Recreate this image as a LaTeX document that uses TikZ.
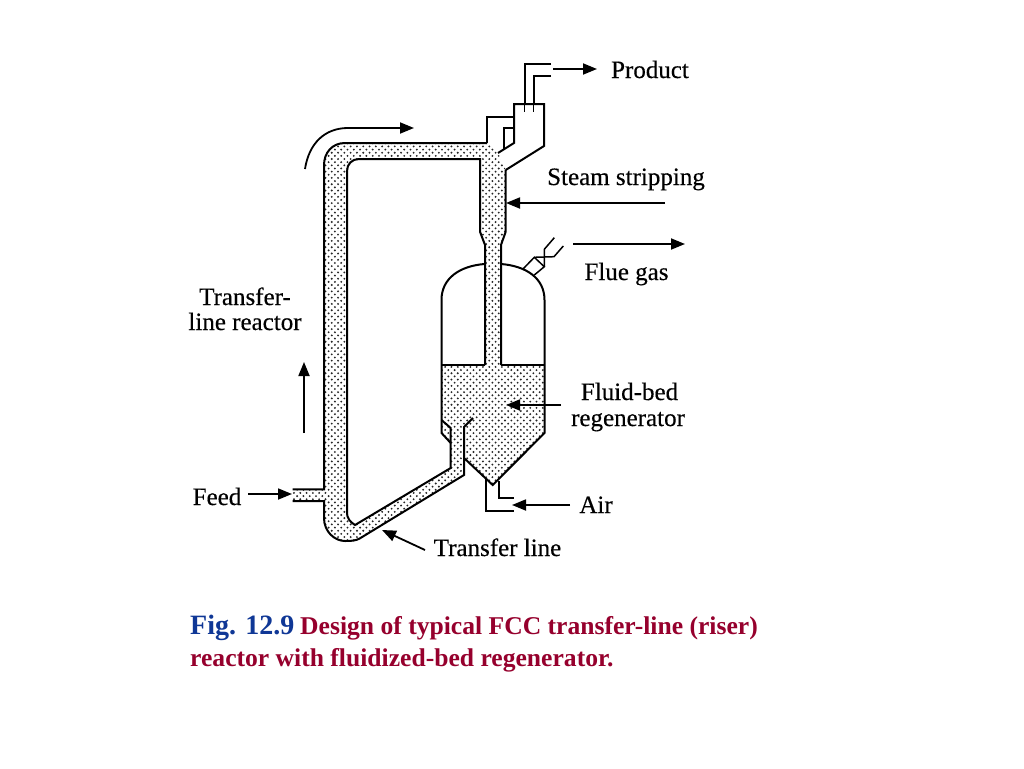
\documentclass[tikz,border=0pt]{standalone}
\usepackage{fontspec}
\setmainfont{Liberation Serif}
\newfontfamily\labfont[FakeBold=0.35]{Liberation Serif}
\usetikzlibrary{patterns,arrows.meta}
\pgfdeclarepatternformonly{stipdots}{\pgfqpoint{-1pt}{-1pt}}{\pgfqpoint{7.3pt}{7.3pt}}{\pgfqpoint{6.3pt}{6.3pt}}{%
  \pgfpathcircle{\pgfqpoint{1pt}{1pt}}{1.05pt}%
  \pgfpathcircle{\pgfqpoint{4.15pt}{4.15pt}}{1.05pt}%
  \pgfusepath{fill}}
\definecolor{capblue}{RGB}{15,55,150}
\definecolor{capred}{RGB}{150,0,45}
\tikzset{
  wall/.style={line width=2pt,line join=miter},
  thinwall/.style={line width=1.5pt},
  flow/.style={line width=1.8pt,-{Triangle[length=14pt,width=11pt]}},
  lab/.style={inner sep=0pt,anchor=base,font=\labfont\fontsize{25}{28}\selectfont,text=black},
  capblue text/.style={inner sep=0pt,anchor=base west,font=\fontsize{28}{30}\selectfont\bfseries,text=capblue},
  capred text/.style={inner sep=0pt,anchor=base west,font=\fontsize{25.6}{28}\selectfont\bfseries,text=capred},
}
\begin{document}
\begin{tikzpicture}[x=1pt,y=-1pt]
\useasboundingbox (0,0) rectangle (1024,768);
\fill[white] (0,0) rectangle (1024,768);
% stippled solids
\fill[pattern=stipdots,pattern color=black!85,even odd rule]
  (505.7,231.7) -- (505.7,170) -- (498,153) -- (487,143) -- (345,143)
  .. controls (332,143) and (324,153) .. (324,165) -- (324,489.3) -- (292.7,489.3) -- (292.7,501) -- (324,501) -- (324,518)
  .. controls (324,532) and (335,541) .. (345,541) .. controls (351,541) and (356,540.8) .. (360,538.3)
  -- (464,475) -- (464,458) -- (492.7,485) -- (544,433) -- (544,365) -- (501,365) -- (501,245) -- cycle
  (347,171) .. controls (347,164) and (352,159) .. (359,159) -- (480,159) -- (480,231.7) -- (485,245) -- (485,365)
  -- (441.5,365) -- (441.5,433) -- (450.7,443) -- (450.7,468) -- (355,525)
  .. controls (350,522) and (347,518) .. (347,513) -- cycle;
% riser walls
\draw[wall] (487,143) -- (345,143) .. controls (332,143) and (324,153) .. (324,165) -- (324,489.3) -- (292.7,489.3);
\draw[wall] (292.7,501) -- (324,501) -- (324,518)
  .. controls (324,532) and (335,541) .. (345,541) .. controls (351,541) and (356,540.8) .. (360,538.3)
  -- (464,475) -- (464,427) -- (473,418);
\draw[wall] (441.5,420) -- (450.7,428) -- (450.7,468) -- (355,525)
  .. controls (350,522) and (347,518) .. (347,513) -- (347,171)
  .. controls (347,164) and (352,159) .. (359,159) -- (480,159) -- (480,231.7) -- (485,245) -- (485,365);
\draw[wall] (505.7,170) -- (505.7,231.7) -- (501,245) -- (501,365);
% disengager
\draw[wall] (487,143) -- (487,116.7) -- (514,116.7);
\draw[wall] (498,153) -- (514,143) -- (514,104) -- (544,104) -- (544,146) -- (505.7,170);
\draw[thinwall] (504,149) -- (504,128) -- (514,128);
% product pipes
\draw[wall] (551,64) -- (524.7,64) -- (524.7,104);
\draw[wall] (551,75.7) -- (533.7,75.7) -- (533.7,104);
\draw[line width=0.9pt] (524.7,104) -- (524.7,112);
\draw[line width=0.9pt] (533.7,104) -- (533.7,112);
% regenerator shell
\draw[wall] (484.5,264) .. controls (460,266) and (441.5,278) .. (441.5,300) -- (441.5,433) -- (450.7,443);
\draw[wall] (501,264) .. controls (526,266) and (544.5,278) .. (544.5,300) -- (544.5,433) -- (492.7,485) -- (464,458);
\draw[wall] (441.5,365) -- (485,365);
\draw[wall] (501,365) -- (544.5,365);
% flue gas valve
\draw[thinwall] (523,269) -- (534.3,257.3) -- (544.3,266.7) -- (534.3,275);
\draw[thinwall] (534.3,257.3) -- (554,256.7) -- (563.3,246);
\draw[thinwall] (544.3,266.7) -- (544.3,249.3) -- (554.3,237.7);
% air pipes
\draw[wall] (486,478) -- (486,511) -- (514,511);
\draw[wall] (499,481) -- (499,498) -- (514,498);
% flow arrows
\coordinate (prodA) at (553,69); \coordinate (prodB) at (597,69);
\draw[flow] (prodA) -- (prodB);
\coordinate (steamA) at (665,203); \coordinate (steamB) at (506,203);
\draw[flow] (steamA) -- (steamB);
\coordinate (flueA) at (573,244); \coordinate (flueB) at (685,244);
\draw[flow] (flueA) -- (flueB);
\coordinate (bedA) at (561,405); \coordinate (bedB) at (506,405);
\draw[flow] (bedA) -- (bedB);
\coordinate (airA) at (570,505); \coordinate (airB) at (512,505);
\draw[flow] (airA) -- (airB);
\coordinate (feedA) at (248,494); \coordinate (feedB) at (292,494);
\draw[flow] (feedA) -- (feedB);
\coordinate (upA) at (304,433); \coordinate (upB) at (304,362);
\draw[flow] (upA) -- (upB);
\coordinate (lineA) at (425,550); \coordinate (lineB) at (382,530);
\draw[flow] (lineA) -- (lineB);
\coordinate (arcA) at (305,169); \coordinate (arcB) at (414,128);
\draw[flow] (arcA) .. controls (309,143) and (325,128) .. (348,128) -- (arcB);
% labels
\node[lab] (product) at (650,78) {Product};
\node[lab] (steam) at (626,185) {Steam stripping};
\node[lab] (flue) at (626.5,280) {Flue gas};
\node[lab] (fluid) at (629.5,400) {Fluid-bed};
\node[lab] (regen) at (628,426) {regenerator};
\node[lab] (air) at (596,513) {Air};
\node[lab] (tline) at (497.5,556) {Transfer line};
\node[lab] (feed) at (217,505) {Feed};
\node[lab] (tr1) at (245,305) {Transfer-};
\node[lab] (tr2) at (245,330) {line reactor};
\node[capblue text] (figno) at (190,634) {Fig. 12.9};
\node[capred text] (cap1) at (300,634) {Design of typical FCC transfer-line (riser)};
\node[capred text] (cap2) at (190,666) {reactor with fluidized-bed regenerator.};
\end{tikzpicture}
\end{document}
